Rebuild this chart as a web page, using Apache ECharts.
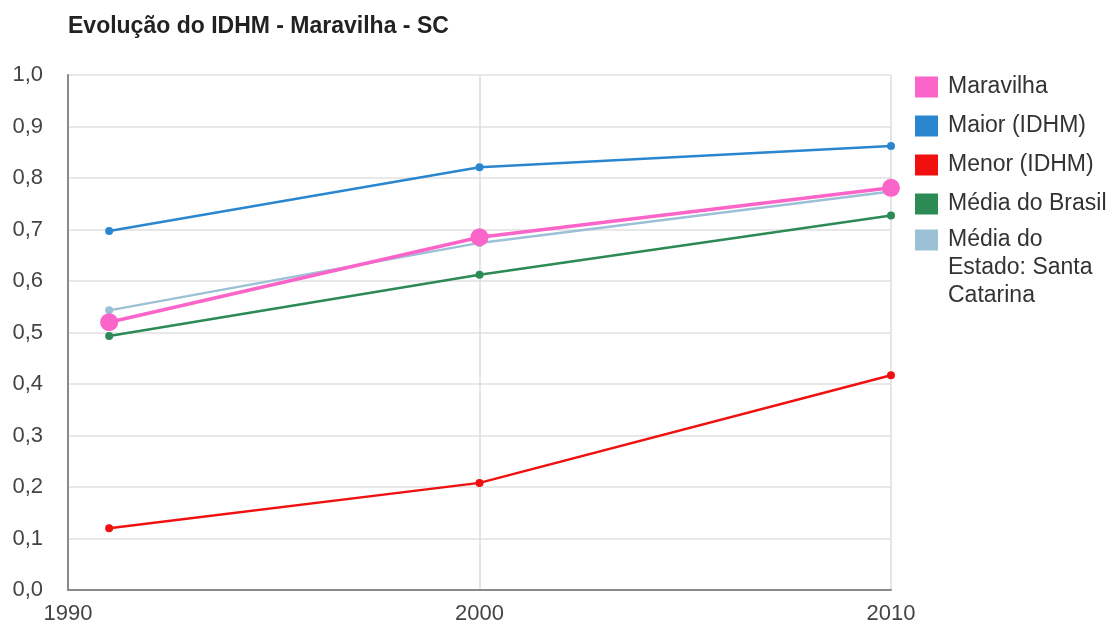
<!DOCTYPE html>
<html>
<head>
<meta charset="utf-8">
<script src="https://cdn.jsdelivr.net/npm/echarts@6/dist/echarts.min.js"></script>
<style>
  html, body { margin: 0; padding: 0; background: #fff; }
  #chart { width: 1112px; height: 625px; }
</style>
</head>
<body>
<div id="chart"></div>
<script>
// Census years and IDHM values
const years = [1991, 2000, 2010];
const maravilha = [0.520, 0.685, 0.781];
const maior = [0.697, 0.821, 0.862];
const menor = [0.120, 0.208, 0.417];
const mediaBrasil = [0.493, 0.612, 0.727];
const mediaSC = [0.543, 0.674, 0.774];

const seriesNames = ['Maravilha', 'Maior (IDHM)', 'Menor (IDHM)', 'Média do Brasil', 'Média do\nEstado: Santa\nCatarina'];
const seriesColors = ['#fb64c8', '#2a86cf', '#f01010', '#2c8a55', '#9cc0d6'];

function pairs(vals) { return years.map((y, i) => [y, vals[i]]); }

const chart = echarts.init(document.getElementById('chart'));
const font = 'Arial, "Liberation Sans", sans-serif';

function lineSeries(idx, vals, width, size) {
  return {
    name: seriesNames[idx],
    type: 'line',
    data: pairs(vals),
    color: seriesColors[idx],
    symbol: 'circle',
    symbolSize: size,
    lineStyle: { width: width },
    itemStyle: { color: seriesColors[idx] },
    emphasis: { disabled: true },
    animation: false
  };
}

const legendBase = {
  orient: 'vertical',
  left: 910,
  icon: 'rect',
  itemWidth: 23, itemHeight: 21,
  itemGap: 11,
  selectedMode: false,
  textStyle: { fontFamily: font, fontSize: 23, color: '#333', lineHeight: 28, padding: [0, 0, 0, 5] }
};

chart.setOption({
  backgroundColor: '#fff',
  title: {
    text: 'Evolução do IDHM - Maravilha - SC',
    left: 63, top: 10,
    textStyle: { fontFamily: font, fontSize: 23, fontWeight: 'bold', color: '#222' }
  },
  legend: [
    Object.assign({}, legendBase, { top: 68, data: seriesNames.slice(0, 4) }),
    // wrapped entry: two leading blank lines keep the swatch level with its first line
    Object.assign({}, legendBase, {
      top: 165,
      data: [seriesNames[4]],
      formatter: name => '\n\n' + name
    })
  ],
  grid: { left: 68, right: 221, top: 75, bottom: 35 },
  xAxis: {
    type: 'value', min: 1990, max: 2010, interval: 10,
    axisLine: { show: true, lineStyle: { color: '#8a8a8a', width: 2 } },
    axisTick: { show: false },
    axisLabel: { fontFamily: font, fontSize: 22, color: '#444', margin: 13, formatter: v => String(v) },
    splitLine: { show: true, lineStyle: { color: '#dcdcdc', width: 1.5 } }
  },
  yAxis: {
    type: 'value', min: 0, max: 1, interval: 0.1,
    axisLine: { show: true, lineStyle: { color: '#8a8a8a', width: 2 } },
    axisTick: { show: false },
    axisLabel: { fontFamily: font, fontSize: 22, color: '#444', margin: 25,
      formatter: v => v.toFixed(1).replace('.', ',') },
    splitLine: { show: true, lineStyle: { color: '#e0e0e0', width: 1.5 } }
  },
  series: [
    lineSeries(2, menor, 2.5, 8),
    lineSeries(1, maior, 2.5, 8),
    lineSeries(3, mediaBrasil, 2.5, 8),
    lineSeries(4, mediaSC, 2.5, 8),
    lineSeries(0, maravilha, 3.5, 18)
  ]
});
</script>
</body>
</html>
